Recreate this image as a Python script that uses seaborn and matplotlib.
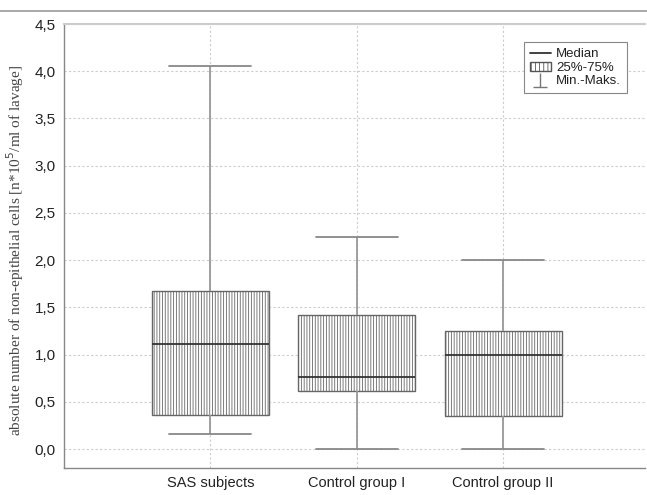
import matplotlib
matplotlib.use("Agg")
import matplotlib.pyplot as plt
import seaborn as sns
import pandas as pd
from matplotlib.lines import Line2D
from matplotlib.patches import Patch
from matplotlib.path import Path
from matplotlib.ticker import FuncFormatter

# summary values: min, 25%, median, 75%, max
groups = ["SAS subjects", "Control group I", "Control group II"]
mins = [0.16, 0.0, 0.0]
q1 = [0.36, 0.62, 0.35]
medians = [1.11, 0.76, 1.0]
q3 = [1.67, 1.42, 1.25]
maxs = [4.06, 2.25, 2.0]

rows = []
for i, g in enumerate(groups):
    for v in (mins[i], q1[i], medians[i], q3[i], maxs[i]):
        rows.append({"group": g, "value": v})
df = pd.DataFrame(rows)

sns.set_style("white")
plt.rcParams["hatch.linewidth"] = 0.6

fig = plt.figure(figsize=(6.47, 4.95), dpi=100)
ax = fig.add_axes([0.099, 0.0545, 0.898, 0.897])

sns.boxplot(
    data=df, x="group", y="value", order=groups, ax=ax,
    whis=(0, 100), width=0.8, color="white", linecolor="#555555",
    linewidth=1.0, capwidths=0.56,
    medianprops=dict(color="#333333", linewidth=1.3),
    whiskerprops=dict(color="#999999", linewidth=1.3),
    capprops=dict(color="#888888", linewidth=1.3),
)
for p in ax.patches:
    p.set_hatch("||||||")
    p.set_facecolor("white")
    p.set_edgecolor("#666666")

ax.set_xlim(-1.0, 2.97)
ax.set_ylim(-0.2, 4.5)
ax.set_yticks([i * 0.5 for i in range(10)])
ax.yaxis.set_major_formatter(FuncFormatter(lambda v, pos: f"{v:.1f}".replace(".", ",")))
ax.grid(True, linestyle=(0, (2, 2)), color="#cccccc", linewidth=0.8)
ax.set_axisbelow(True)
ax.tick_params(length=0, pad=6, labelcolor="#222222")
for lbl in ax.get_yticklabels():
    lbl.set_fontsize(11)
    lbl.set_family("Liberation Sans")
for lbl in ax.get_xticklabels():
    lbl.set_fontsize(10.5)
    lbl.set_family("Liberation Sans")
ax.set_xlabel("")
ax.set_ylabel("absolute number of non-epithelial cells [n*10$^5$/ml of lavage]",
              fontsize=11, family="Liberation Serif", color="#444444")
ax.yaxis.set_label_coords(-0.066, 0.49)

for side in ("left", "bottom"):
    ax.spines[side].set_color("#888888")
    ax.spines[side].set_linewidth(1.0)
ax.spines["top"].set_color("#cccccc")
ax.spines["top"].set_linewidth(1.5)
ax.spines["right"].set_visible(False)

# whisker legend symbol
tee = Path([(-1, -1), (1, -1), (0, -1), (0, 1)],
           [Path.MOVETO, Path.LINETO, Path.MOVETO, Path.LINETO])
handles = [
    Line2D([], [], color="#333333", linewidth=1.3),
    Patch(facecolor="white", edgecolor="#555555", hatch="||||"),
    Line2D([], [], marker=tee, markersize=10, linestyle="none",
           markeredgecolor="#777777", markeredgewidth=1.0),
]
leg = ax.legend(handles, ["Median", "25%-75%", "Min.-Maks."],
                loc="upper right", bbox_to_anchor=(0.969, 0.959),
                borderaxespad=0, fancybox=False, framealpha=1,
                edgecolor="#888888", prop={"family": "Liberation Sans", "size": 9.5},
                handlelength=1.6, handletextpad=0.4, labelspacing=0.1,
                borderpad=0.45)
leg.get_frame().set_linewidth(0.8)
for t in leg.get_texts():
    t.set_color("#222222")

fig.add_artist(Line2D([0, 1], [1 - 11 / 495, 1 - 11 / 495],
                      transform=fig.transFigure, color="#999999", linewidth=1.2))

fig.savefig("out.png", dpi=100)
